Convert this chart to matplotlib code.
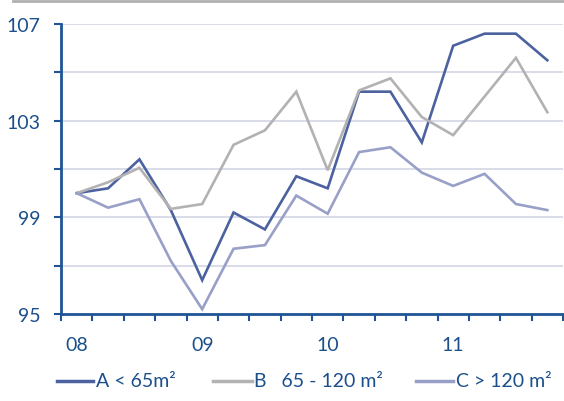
import matplotlib
matplotlib.use("Agg")
import matplotlib.pyplot as plt
from matplotlib.lines import Line2D

plt.rcParams['font.family'] = ['Lato', 'DejaVu Sans']

quarters = list(range(16))
year_labels = ["08", "09", "10", "11"]
year_positions = [0, 4, 8, 12]

series_a = [100.0, 100.2, 101.4, 99.3, 96.4, 99.2, 98.5, 100.7, 100.2, 104.2, 104.2, 102.1, 106.1, 106.6, 106.6, 105.5]
series_b = [100.0, 100.45, 101.05, 99.35, 99.55, 102.0, 102.6, 104.2, 100.95, 104.25, 104.75, 103.15, 102.4, 104.0, 105.6, 103.35]
series_c = [100.0, 99.4, 99.75, 97.2, 95.2, 97.7, 97.85, 99.9, 99.15, 101.7, 101.9, 100.85, 100.3, 100.8, 99.55, 99.3]

labels = ["A < 65m²", "B   65 - 120 m²", "C > 120 m²"]
colors = ["#4c62a0", "#b2b2b2", "#98a0c8"]
text_color = "#1b4f8c"
axis_color = "#1f5596"

W, H = 564, 402
fig = plt.figure(figsize=(W/100, H/100), dpi=100)
ax = fig.add_axes([61/W, 1-315/H, (563-61)/W, (315-25)/H])

for vals, c, lab in zip([series_a, series_b, series_c], colors, labels):
    ax.plot(quarters, vals, color=c, lw=1.9, label=lab, solid_joinstyle='miter', zorder=3)

ax.set_xlim(-0.5, 15.5)
ax.set_ylim(95, 107)

ax.set_yticks([95, 99, 103, 107])
ax.set_yticks([97, 101, 105], minor=True)
for y in [97, 99, 101, 103, 105, 107]:
    ax.axhline(y, color="#cfd2e4", lw=1.1, zorder=1)

ax.set_xticks(year_positions)
ax.set_xticklabels(year_labels)
ax.set_xticks([i - 0.5 for i in range(17)], minor=True)
ax.tick_params(axis='x', which='major', length=0, pad=16, labelsize=14, labelcolor=text_color)
ax.tick_params(axis='x', which='minor', length=5, width=1.5, color=axis_color, direction='out')
ax.tick_params(axis='y', which='both', length=5, width=1.5, color=axis_color, direction='out')
ax.tick_params(axis='y', which='major', pad=10, labelsize=14, labelcolor=text_color)

for s in ['top', 'right']:
    ax.spines[s].set_visible(False)
for s in ['left', 'bottom']:
    ax.spines[s].set_color(axis_color)
    ax.spines[s].set_linewidth(2.0)

fig.add_artist(Line2D([13/W, 1.0], [1-2/H, 1-2/H], color="#b0b0b0", lw=2))

# legend drawn manually (line segment + label) for exact placement
leg_y = 1 - 382/H
leg_lines = [(57, 93), (213, 252), (416, 453)]
leg_text_x = [96, 254, 456]
for (x0, x1), tx, c, lab in zip(leg_lines, leg_text_x, colors, labels):
    fig.add_artist(Line2D([x0/W, x1/W], [leg_y, leg_y], color=c, lw=2.5))
    fig.text(tx/W, leg_y, lab, ha='left', va='center', fontsize=14, color=text_color)

fig.savefig("out.png", dpi=100)
